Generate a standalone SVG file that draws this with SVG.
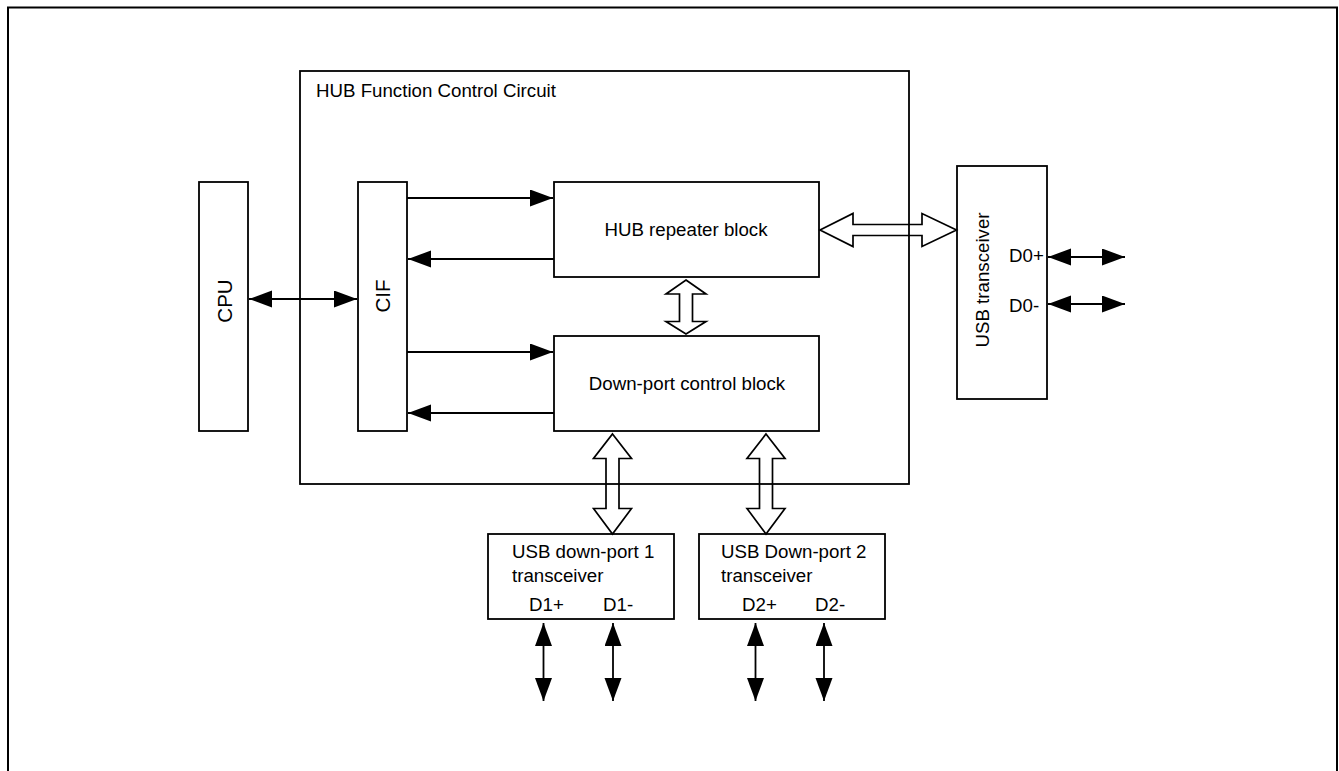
<svg xmlns="http://www.w3.org/2000/svg" width="1339" height="771" viewBox="0 0 1339 771">
<style>
  .box { fill: #fff; stroke: #000; stroke-width: 1.8; }
  .frame { fill: none; stroke: #000; stroke-width: 1.8; }
  .ln { fill: none; stroke: #000; stroke-width: 1.8; }
  .hollow { fill: none; stroke: #000; stroke-width: 1.7; stroke-linejoin: miter; }
  text { font-family: "Liberation Sans", Arial, sans-serif; font-size: 18.7px; fill: #000; }
  .big { font-size: 20.5px; }
  .mid { text-anchor: middle; }
</style>
<defs>
  <marker id="ah" markerUnits="userSpaceOnUse" markerWidth="24" markerHeight="18" refX="23" refY="8.5" orient="auto-start-reverse">
    <path d="M0,0 L23,8.5 L0,17 Z" fill="#000"/>
  </marker>
</defs>
<rect width="1339" height="771" fill="#fff"/>
<path d="M8,780 V7.5 H1337 V780" fill="none" stroke="#000" stroke-width="2"/>

<g id="hub-function">
  <rect class="frame" x="300" y="71" width="609" height="413"/>
  <text x="316" y="97">HUB Function Control Circuit</text>
</g>
<g id="cpu">
  <rect class="box" x="199" y="182" width="49" height="249"/>
  <text class="big mid" transform="translate(232,301) rotate(-90)">CPU</text>
</g>
<g id="cif">
  <rect class="box" x="358" y="182" width="49" height="249"/>
  <text class="big mid" transform="translate(390,296) rotate(-90)">CIF</text>
</g>
<g id="hub-repeater">
  <rect class="box" x="554" y="182" width="265" height="95"/>
  <text class="mid" x="686" y="236">HUB repeater block</text>
</g>
<g id="down-port-control">
  <rect class="box" x="554" y="336" width="265" height="95"/>
  <text class="mid" x="687" y="390">Down-port control block</text>
</g>
<g id="usb-transceiver">
  <rect class="box" x="957" y="166" width="90" height="233"/>
  <text class="mid" transform="translate(989,280) rotate(-90)">USB transceiver</text>
  <text x="1009" y="262">D0+</text>
  <text x="1009" y="312">D0-</text>
</g>
<g id="usb-down-port-1">
  <rect class="box" x="488" y="534" width="186" height="85"/>
  <text x="512" y="558">USB down-port 1</text>
  <text x="512" y="582">transceiver</text>
  <text x="529" y="611">D1+</text>
  <text x="603" y="611">D1-</text>
</g>
<g id="usb-down-port-2">
  <rect class="box" x="699" y="534" width="186" height="85"/>
  <text x="721" y="558">USB Down-port 2</text>
  <text x="721" y="582">transceiver</text>
  <text x="742" y="611">D2+</text>
  <text x="815" y="611">D2-</text>
</g>

<g id="connectors">
  <line class="ln" x1="249" y1="299" x2="357" y2="299" marker-start="url(#ah)" marker-end="url(#ah)"/>
  <line class="ln" x1="407" y1="198" x2="553" y2="198" marker-end="url(#ah)"/>
  <line class="ln" x1="554" y1="259" x2="408" y2="259" marker-end="url(#ah)"/>
  <line class="ln" x1="407" y1="352" x2="553" y2="352" marker-end="url(#ah)"/>
  <line class="ln" x1="554" y1="413" x2="408" y2="413" marker-end="url(#ah)"/>
  <line class="ln" x1="1048" y1="257" x2="1125" y2="257" marker-start="url(#ah)" marker-end="url(#ah)"/>
  <line class="ln" x1="1048" y1="304" x2="1125" y2="304" marker-start="url(#ah)" marker-end="url(#ah)"/>
  <line class="ln" x1="543.5" y1="623" x2="543.5" y2="701" marker-start="url(#ah)" marker-end="url(#ah)"/>
  <line class="ln" x1="613" y1="623" x2="613" y2="701" marker-start="url(#ah)" marker-end="url(#ah)"/>
  <line class="ln" x1="755.5" y1="623" x2="755.5" y2="701" marker-start="url(#ah)" marker-end="url(#ah)"/>
  <line class="ln" x1="824" y1="623" x2="824" y2="701" marker-start="url(#ah)" marker-end="url(#ah)"/>
  <!-- hollow bus arrows -->
  <path class="hollow" d="M820,230 L853,213.5 L853,224.5 L922,224.5 L922,213.5 L956.5,230 L922,246.5 L922,235.5 L853,235.5 L853,246.5 Z"/>
  <path class="hollow" d="M686,280 L706,294 L692.5,294 L692.5,321.5 L706,321.5 L686,334 L666,321.5 L679.5,321.5 L679.5,294 L666,294 Z"/>
  <path class="hollow" d="M612.5,434 L631.5,458.5 L619,458.5 L619,508.5 L631.5,508.5 L612.5,534 L593.5,508.5 L606,508.5 L606,458.5 L593.5,458.5 Z"/>
  <path class="hollow" d="M766,434 L785,458.5 L772.5,458.5 L772.5,508.5 L785,508.5 L766,534 L747,508.5 L759.5,508.5 L759.5,458.5 L747,458.5 Z"/>
</g>
</svg>
